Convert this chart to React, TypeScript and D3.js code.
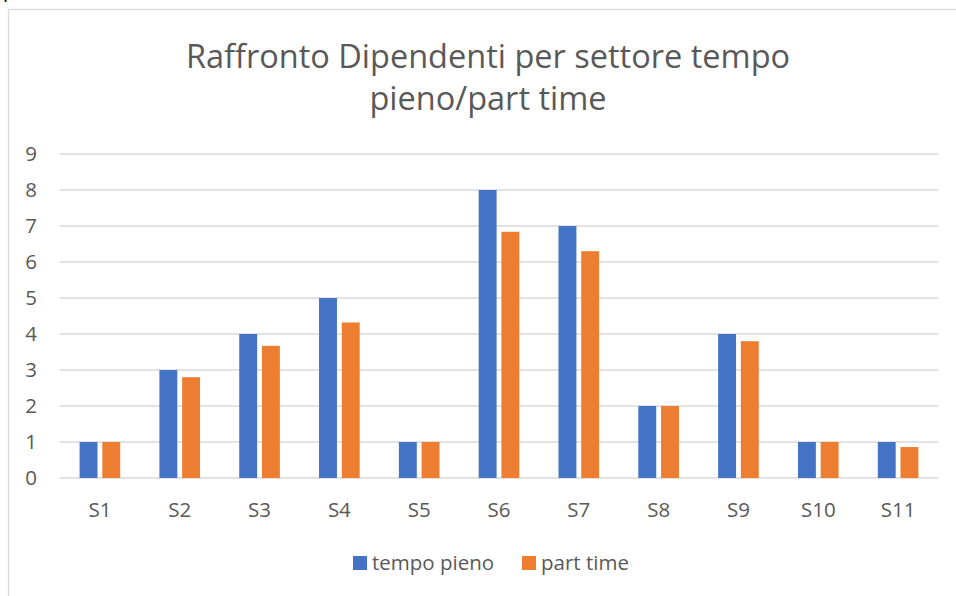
import React from "react";
import * as d3 from "d3";

const categories = ["S1", "S2", "S3", "S4", "S5", "S6", "S7", "S8", "S9", "S10", "S11"];
const tempoPieno = [1, 3, 4, 5, 1, 8, 7, 2, 4, 1, 1];
const partTime = [1, 2.8, 3.67, 4.32, 1, 6.84, 6.3, 2, 3.8, 1, 0.86];
const seriesNames = ["tempo pieno", "part time"];
const seriesColors = ["#4472C4", "#ED7D31"];
const yTicks = [0, 1, 2, 3, 4, 5, 6, 7, 8, 9];
const titleLines = ["Raffronto Dipendenti per settore tempo", "pieno/part time"];

const W = 956;
const H = 596;
const FONT = "'Open Sans', 'DejaVu Sans', sans-serif";

export default function App() {
  const left = 60, right = 938, top = 154, bottom = 478;
  const x = d3.scaleBand<string>().domain(categories).range([left, right]).paddingInner(0).paddingOuter(0);
  const y = d3.scaleLinear().domain([0, 9]).range([bottom, top]);
  const bw = x.bandwidth();
  const w = bw / 4.46;
  const gap = w * 0.27;
  const series = [tempoPieno, partTime];

  return (
    <svg width={W} height={H} style={{ position: "absolute", left: 0, top: 0, background: "#fff" }}>
      <rect x={0} y={0} width={W} height={H} fill="#fff" />
      {/* clipped text fragments from page above */}
      <text x={3} y={-3} fontFamily={FONT} fontSize={20} fill="#000">p</text>
      <text x={137} y={-3} fontFamily={FONT} fontSize={20} fill="#000">,</text>
      {/* chart border */}
      <rect x={8.5} y={9.5} width={W + 10} height={H + 10} fill="none" stroke="#d9d9d9" strokeWidth={1.3} />
      {/* title */}
      {titleLines.map((t, i) => (
        <text key={i} x={488} y={68 + i * 42} textAnchor="middle" fontFamily={FONT} fontSize={32.5} fill="#595959">
          {t}
        </text>
      ))}
      {/* gridlines */}
      {yTicks.map((t) => (
        <line key={t} x1={left} x2={right} y1={y(t)} y2={y(t)} stroke="#d9d9d9" strokeWidth={1.3} />
      ))}
      {/* y labels */}
      {yTicks.map((t) => (
        <text key={"l" + t} x={37} y={y(t)} dy="0.36em" textAnchor="end" fontFamily={FONT} fontSize={20.5} fill="#595959">
          {t}
        </text>
      ))}
      {/* bars */}
      {categories.map((c, i) => {
        const cx = (x(c) as number) + bw / 2;
        return series.map((s, si) => {
          const bx = si === 0 ? cx - gap / 2 - w : cx + gap / 2;
          return (
            <rect key={c + si} x={bx} y={y(s[i])} width={w} height={y(0) - y(s[i])} fill={seriesColors[si]} />
          );
        });
      })}
      {/* x labels */}
      {categories.map((c) => (
        <text key={"x" + c} x={(x(c) as number) + bw / 2} y={517} textAnchor="middle" fontFamily={FONT} fontSize={20.5} fill="#595959">
          {c}
        </text>
      ))}
      {/* legend */}
      <rect x={353} y={556} width={14} height={14} fill={seriesColors[0]} />
      <text x={372} y={570} fontFamily={FONT} fontSize={20.5} fill="#595959">{seriesNames[0]}</text>
      <rect x={522} y={556} width={14} height={14} fill={seriesColors[1]} />
      <text x={541} y={570} fontFamily={FONT} fontSize={20.5} fill="#595959">{seriesNames[1]}</text>
    </svg>
  );
}
